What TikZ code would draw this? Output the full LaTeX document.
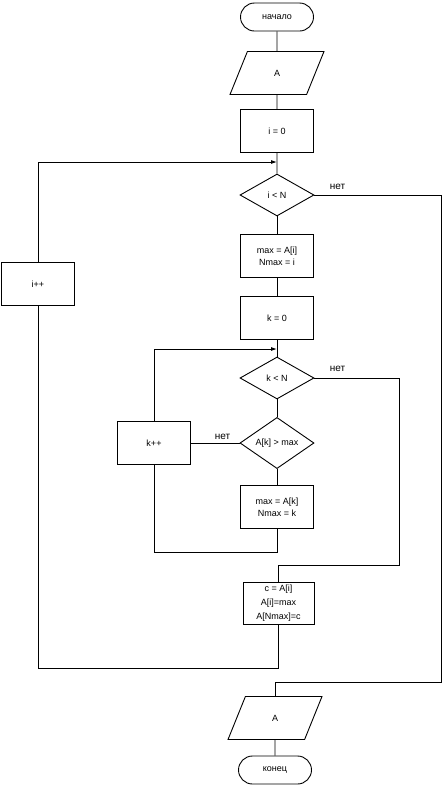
\documentclass[tikz,border=0pt]{standalone}
\usepackage{fontspec}
\setmainfont{Liberation Sans}
\usetikzlibrary{shapes.geometric,arrows.meta}
\tikzset{
 term/.style={draw,rounded corners=14pt,minimum width=73pt,minimum height=28pt,inner sep=1pt},
 io/.style={draw,trapezium,trapezium left angle=74,trapezium right angle=106,trapezium stretches=true,minimum width=94pt,minimum height=43pt,inner sep=1pt},
 proc/.style={draw,rectangle,minimum width=73pt,minimum height=43pt,inner sep=1pt,align=center},
 cond/.style={draw,diamond,minimum width=74pt,minimum height=42pt,inner sep=0pt},
 lbl/.style={inner sep=0pt,font=\fontsize{10}{12}\selectfont},
 toarr/.style={-{Latex[length=6pt,width=4pt]}}
}
\begin{document}
\begin{tikzpicture}[x=1pt,y=-1pt,line width=0.9pt,font=\fontsize{9}{12}\selectfont]
\useasboundingbox (0,0) rectangle (444,785);
%main column
\node[term] (start) at (277,17) {начало};
\node[io] (inA) at (277,73) {A};
\node[proc] (init) at (277,131) {i = 0};
\node[cond] (ilt) at (277,195) {i < N};
\node[proc] (setmax) at (277,256) {max = A[i]\\Nmax = i};
\node[proc] (initk) at (277,318) {k = 0};
\node[cond] (klt) at (277,378) {k < N};
\node[cond] (cmp) at (277,443) {A[k] > max};
\node[proc] (setmaxk) at (277,507) {max = A[k]\\Nmax = k};
\node[proc,minimum width=71pt,minimum height=42pt,font=\fontsize{9}{14}\selectfont] (swap) at (278.5,603) {c = A[i]\\A[i]=max\\A[Nmax]=c};
\node[io] (outA) at (275,718) {A};
\node[term] (stop) at (275,770) {конец};
%loop boxes
\node[proc] (inck) at (154,443) {k++};
\node[proc] (inci) at (38,284) {i++};
%bends
\coordinate (jI) at (277,162);
\coordinate (jK) at (277,349);
\coordinate (r1) at (441,682);
\coordinate (r2) at (399,565);
\coordinate (b2) at (154,552);
\coordinate (b1) at (38,668);
\draw (start) -- (inA) -- (init) -- (ilt);
\draw (ilt) -- (setmax) -- (initk) -- (klt) -- (cmp) -- (setmaxk);
\draw (outA) -- (stop);
%no branches
\draw (ilt.east) node[lbl,anchor=base west,xshift=15pt,yshift=6pt] (no1) {нет} -| (r1) -| (outA.north);
\draw (klt.east) node[lbl,anchor=base west,xshift=15pt,yshift=7pt] (no2) {нет} -| (r2) -| (swap.north);
\draw (cmp.west) node[lbl,anchor=base east,xshift=-9pt,yshift=4pt] (no3) {нет} -- (inck.east);
%inner loop
\draw (setmaxk.south) |- (b2) -- (inck.south);
\draw[toarr] (inck.north) |- (jK);
%outer loop
\draw (swap.south) |- (b1) -- (inci.south);
\draw[toarr] (inci.north) |- (jI);
\end{tikzpicture}
\end{document}
